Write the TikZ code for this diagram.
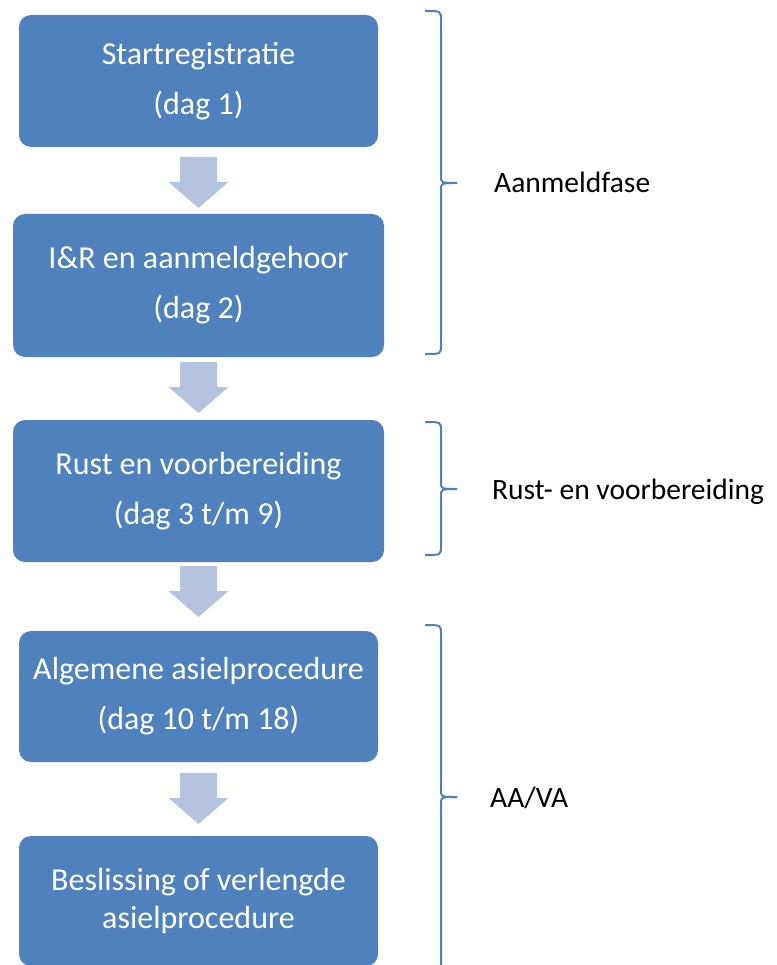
\documentclass[tikz,border=0pt]{standalone}
\usepackage{fontspec}
\setmainfont{Carlito}
\definecolor{boxblue}{RGB}{79,129,189}
\definecolor{arrowblue}{RGB}{180,195,222}
\newcommand{\phasebrace}[3]{%
  \draw[bracket] (425,#1) .. controls (441,#1) .. (441,{#1+9}) -- (441,{#2-7})
    .. controls (441,#2) .. (457,#2);
  \draw[bracket] (457,#2) .. controls (441,#2) .. (441,{#2+7}) -- (441,{#3-9})
    .. controls (441,#3) .. (425,#3);}
\begin{document}
\begin{tikzpicture}
[x=1pt,y=-1pt,
stepbox/.style={rectangle,rounded corners=12pt,fill=boxblue,text=white,align=center,
  inner sep=0pt,font=\fontsize{32}{38}\selectfont},
bracket/.style={draw=boxblue,line width=2pt},
phase/.style={anchor=base west,inner sep=0pt,font=\fontsize{29.5}{35}\selectfont},
flowarrow/.pic={\fill[arrowblue] (-18.5,0) -- (18.5,0) -- (18.5,25) -- (30,25) -- (0,51)
  -- (-30,25) -- (-18.5,25) -- cycle;}
]
\clip (0,0) rectangle (776,965);

\node[stepbox,minimum width=359,minimum height=132] (start) at (198.5,81)
  {Startregistratie\\[12pt](dag 1)};
\node[stepbox,minimum width=371,minimum height=143] (gehoor) at (198.5,285.5)
  {I\&R en aanmeldgehoor\\[12pt](dag 2)};
\node[stepbox,minimum width=371,minimum height=142] (rust) at (198.5,491)
  {Rust en voorbereiding\\[12pt](dag 3 t/m 9)};
\node[stepbox,minimum width=359,minimum height=131] (algemeen) at (198.5,696.5)
  {Algemene asielprocedure\\[12pt](dag 10 t/m 18)};
\node[stepbox,minimum width=359,minimum height=130] (besluit) at (198.5,901)
  {Beslissing of verlengde\\asielprocedure};

\pic at (198.5,157) {flowarrow};
\pic at (198.5,362) {flowarrow};
\pic at (198.5,566) {flowarrow};
\pic at (198.5,773) {flowarrow};

\phasebrace{11}{183}{354}
\phasebrace{422}{489}{555}
\phasebrace{625}{797}{1000}

\node[phase] (aanmeld) at (494,193) {Aanmeldfase};
\node[phase] (voorber) at (492,499) {Rust- en voorbereiding};
\node[phase] (aava) at (490,807) {AA/VA};
\end{tikzpicture}
\end{document}
